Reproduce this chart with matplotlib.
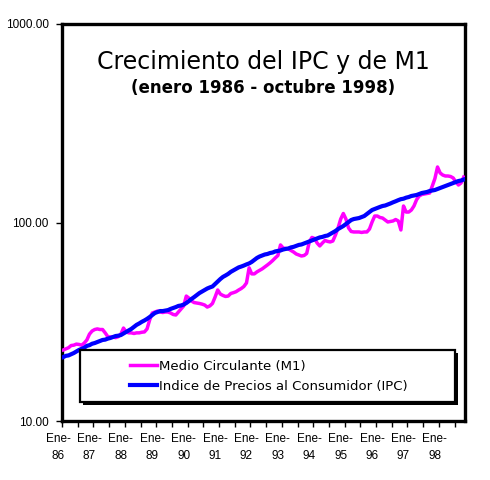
import numpy as np
import matplotlib
matplotlib.use("Agg")
import matplotlib.pyplot as plt
from matplotlib.patches import Rectangle
from matplotlib.ticker import FuncFormatter, NullLocator
from matplotlib.transforms import ScaledTranslation

# monthly values, enero 1986 - octubre 1998
ipc = [21.0, 21.3, 21.4, 21.7, 22.0, 22.4, 22.8, 23.1, 23.4, 23.9, 24.1, 24.5,
       24.7, 25.0, 25.3, 25.6, 25.7, 26.0, 26.2, 26.5, 26.8, 26.9, 27.1, 27.6,
       28.1, 28.6, 29.1, 29.8, 30.5, 31.0, 31.6, 32.1, 32.7, 33.4, 34.2, 35.0,
       35.4, 35.8, 35.8, 36.0, 36.2, 36.7, 37.1, 37.5, 38.0, 38.2, 38.6, 39.3,
       40.2, 41.2, 42.1, 43.1, 44.1, 44.9, 45.7, 46.5, 47.1, 47.6, 49.0, 50.4,
       51.9, 53.2, 54.1, 55.1, 56.4, 57.4, 58.4, 59.4, 60.0, 60.7, 61.5, 62.2,
       63.3, 64.8, 66.3, 67.4, 68.2, 69.0, 69.4, 70.2, 70.6, 71.5, 71.9, 72.3,
       73.1, 73.6, 74.0, 74.9, 75.4, 76.2, 77.1, 77.5, 78.4, 79.3, 80.3, 81.2,
       82.2, 83.1, 84.1, 84.6, 85.5, 86.0, 87.5, 89.1, 90.6, 92.7, 94.4, 96.0,
       98.3, 100.6, 102.9, 104.1, 104.7, 105.3, 106.6, 107.8, 110.3, 112.9, 115.6, 117.0,
       118.4, 119.8, 121.1, 121.8, 123.2, 124.7, 126.4, 127.9, 129.6, 131.1, 131.8, 133.4,
       134.4, 136.0, 136.8, 137.6, 139.2, 140.8, 141.7, 142.5, 144.1, 145.0, 145.8, 147.5,
       149.2, 151.0, 152.7, 154.5, 156.3, 158.2, 160.0, 161.8, 162.8, 164.6]

m1 = [22.8, 23.1, 23.4, 24.0, 24.1, 24.4, 24.3, 24.1, 24.7, 25.6, 27.4, 28.4,
      28.9, 29.1, 28.9, 28.9, 27.8, 26.6, 26.5, 26.5, 26.3, 26.6, 27.4, 29.4,
      28.1, 27.8, 27.8, 27.6, 27.8, 27.8, 28.0, 28.1, 29.1, 32.3, 35.0, 35.4,
      35.8, 35.4, 35.2, 35.4, 35.4, 35.0, 34.4, 34.2, 35.4, 36.7, 38.0, 42.6,
      41.6, 40.2, 39.5, 39.3, 39.1, 38.8, 38.4, 37.5, 38.0, 39.1, 42.1, 45.7,
      43.6, 42.9, 42.4, 42.6, 43.9, 44.3, 44.8, 45.7, 46.5, 47.6, 49.6, 59.1,
      55.1, 55.1, 56.4, 57.4, 58.4, 59.7, 61.1, 62.6, 64.3, 66.3, 68.2, 77.1,
      74.4, 74.0, 73.6, 72.3, 71.0, 69.4, 68.6, 67.8, 68.2, 69.8, 79.8, 84.1,
      83.1, 78.8, 76.2, 78.8, 81.2, 80.3, 79.8, 80.7, 86.5, 93.9, 104.1, 111.0,
      104.1, 93.9, 90.1, 89.6, 89.6, 89.6, 89.1, 89.6, 89.6, 92.7, 100.6, 107.8,
      107.8, 106.0, 105.3, 102.9, 100.6, 101.2, 101.8, 103.5, 101.8, 91.7, 121.1, 112.9,
      112.9, 115.6, 121.1, 130.3, 136.0, 138.4, 139.2, 140.0, 140.8, 152.7, 166.5, 190.4,
      177.6, 173.4, 171.5, 171.5, 170.5, 167.6, 160.0, 154.5, 158.2, 169.4]

years = ["86", "87", "88", "89", "90", "91", "92", "93", "94", "95", "96", "97", "98"]

fig = plt.figure(figsize=(4.9, 4.8), dpi=100)
ax = fig.add_axes([62/490, 59/480, 403/490, 397/480])

x = np.arange(len(ipc))
ax.plot(x, m1, color="#FF00FF", lw=2.5, label="Medio Circulante (M1)", zorder=3)
ax.plot(x, ipc, color="#0000FF", lw=3.0, label="Indice de Precios al Consumidor (IPC)", zorder=4)

ax.set_yscale("log")
ax.set_ylim(10, 1000)
ax.set_xlim(-0.5, len(ipc) - 0.5)
ax.yaxis.set_major_formatter(FuncFormatter(lambda v, _: f"{v:.2f}"))
ax.yaxis.set_minor_locator(NullLocator())

tick_pos = np.arange(-0.5, len(ipc) - 1, 6)
tick_lab = []
for i in range(len(tick_pos)):
    if i % 2 == 0 and i // 2 < len(years):
        tick_lab.append("Ene-\n" + years[i // 2])
    else:
        tick_lab.append("")
ax.set_xticks(tick_pos)
ax.set_xticklabels(tick_lab, fontsize=8.5, family="Liberation Sans", linespacing=1.55)
ax.tick_params(axis="x", length=4, width=1, pad=5)
ax.tick_params(axis="y", length=4, width=1, labelsize=8.5, pad=5.5)
for lbl in ax.get_yticklabels():
    lbl.set_family("Liberation Sans")
shift = ScaledTranslation(-4/100, 0, fig.dpi_scale_trans)
for lbl in ax.get_xticklabels():
    lbl.set_transform(lbl.get_transform() + shift)

for s in ax.spines.values():
    s.set_linewidth(2.4)

ax.text(0.5, 0.904, "Crecimiento del IPC y de M1", transform=ax.transAxes,
        ha="center", va="center", fontsize=17)
ax.text(0.5, 0.839, "(enero 1986 - octubre 1998)", transform=ax.transAxes,
        ha="center", va="center", fontsize=12, fontweight="bold")

# legend box with shadow
bx, by, bw, bh = 18/403, 19/397, 375/403, 52/397
ax.add_patch(Rectangle((bx + 3/403, by - 3/397), bw, bh, transform=ax.transAxes,
                       facecolor="black", edgecolor="none", zorder=5))
ax.add_patch(Rectangle((bx, by), bw, bh, transform=ax.transAxes,
                       facecolor="white", edgecolor="black", lw=1.6, zorder=6))
leg = ax.legend(loc="center left", bbox_to_anchor=(0.14, 0.113), frameon=False,
                fontsize=9.5, handlelength=2.0, handletextpad=0.2, labelspacing=0.55)
leg.set_zorder(7)

fig.savefig("out.png", dpi=100)
